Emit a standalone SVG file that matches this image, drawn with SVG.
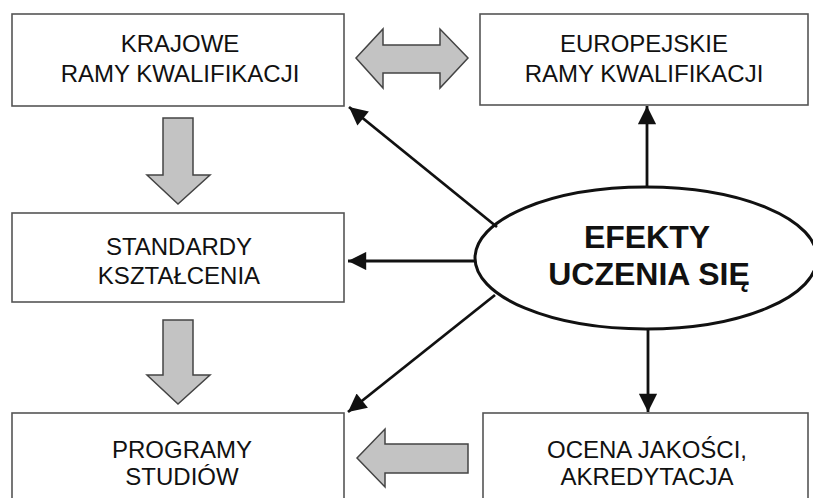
<svg xmlns="http://www.w3.org/2000/svg" width="813" height="498" viewBox="0 0 813 498">
<defs>
<style>
.box{fill:#fff;stroke:#555;stroke-width:1.6}
.lbl{font-family:"Liberation Sans",Arial,sans-serif;font-size:24px;fill:#111;text-anchor:middle}
.big{font-family:"Liberation Sans",Arial,sans-serif;font-size:32px;font-weight:bold;fill:#111;text-anchor:middle}
.garrow{fill:#c3c3c3;stroke:#444;stroke-width:1.5;stroke-linejoin:miter}
.conn{stroke:#111;stroke-width:2.8;fill:none}
</style>
<marker id="ah" viewBox="0 0 10 10" refX="10" refY="5" markerWidth="7.5" markerHeight="6.5" markerUnits="strokeWidth" orient="auto">
<path d="M0,0 L10,5 L0,10 z" fill="#111"/>
</marker>
</defs>
<rect width="813" height="498" fill="#fff"/>
<g id="krajowe">
<rect class="box" x="12" y="14" width="332" height="92"/>
<text class="lbl" x="180" y="52">KRAJOWE</text>
<text class="lbl" x="180" y="82">RAMY KWALIFIKACJI</text>
</g>
<g id="europejskie">
<rect class="box" x="480" y="14" width="328" height="91"/>
<text class="lbl" x="644" y="52">EUROPEJSKIE</text>
<text class="lbl" x="644" y="82">RAMY KWALIFIKACJI</text>
</g>
<g id="standardy">
<rect class="box" x="12" y="213" width="332" height="89"/>
<text class="lbl" x="179" y="255">STANDARDY</text>
<text class="lbl" x="179" y="284">KSZTAŁCENIA</text>
</g>
<g id="programy">
<rect class="box" x="12" y="413" width="332" height="90"/>
<text class="lbl" x="182" y="458">PROGRAMY</text>
<text class="lbl" x="182" y="485">STUDIÓW</text>
</g>
<g id="ocena">
<rect class="box" x="483" y="413" width="325" height="90"/>
<text class="lbl" x="647" y="458">OCENA JAKOŚCI,</text>
<text class="lbl" x="647" y="485">AKREDYTACJA</text>
</g>
<g id="efekty">
<ellipse cx="646" cy="258" rx="171" ry="71" fill="#fff" stroke="#111" stroke-width="3"/>
<text class="big" x="647" y="248">EFEKTY</text>
<text class="big" x="649" y="285">UCZENIA SIĘ</text>
</g>
<g id="block-arrows">
<polygon class="garrow" points="356,58 383,29 383,45 440,45 440,29 468,58 440,88 440,73 383,73 383,88"/>
<polygon class="garrow" points="163,118 193,118 193,175 210,175 178,204 147,175 163,175"/>
<polygon class="garrow" points="163,320 193,320 193,375 210,375 178,404 147,375 163,375"/>
<polygon class="garrow" points="357,458 385,429 385,444 468,444 468,473 385,473 385,487"/>
</g>
<g id="connectors">
<line class="conn" x1="497" y1="227" x2="349" y2="107" marker-end="url(#ah)"/>
<line class="conn" x1="647" y1="187" x2="647" y2="106" marker-end="url(#ah)"/>
<line class="conn" x1="475" y1="261" x2="348" y2="261" marker-end="url(#ah)"/>
<line class="conn" x1="495" y1="295" x2="348" y2="412" marker-end="url(#ah)"/>
<line class="conn" x1="648" y1="329" x2="648" y2="412" marker-end="url(#ah)"/>
</g>
</svg>
